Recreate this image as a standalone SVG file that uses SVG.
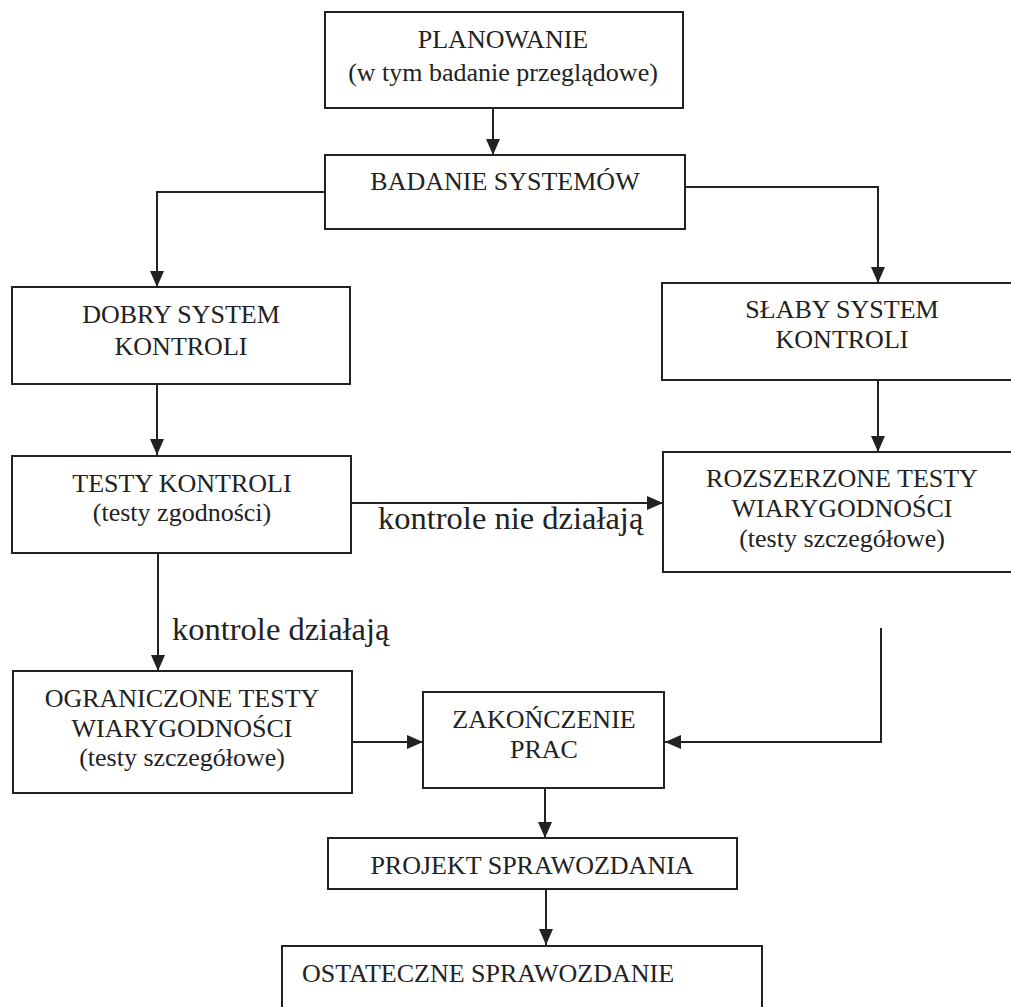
<svg xmlns="http://www.w3.org/2000/svg" width="1011" height="1007" viewBox="0 0 1011 1007">
  <style>
    .box { fill: #ffffff; stroke: #222222; stroke-width: 2; }
    .t { font-family: "Liberation Serif", "Times New Roman", serif; font-size: 26px; fill: #222222; text-anchor: middle; }
    .lbl { font-family: "Liberation Serif", "Times New Roman", serif; font-size: 32.5px; fill: #222222; text-anchor: start; }
    .conn path { fill: none; stroke: #222222; stroke-width: 2; }
  </style>
  <defs>
    <marker id="arr" markerUnits="userSpaceOnUse" markerWidth="16" markerHeight="14" refX="16" refY="7" orient="auto">
      <path d="M0,0 L16,7 L0,14 z" fill="#222222"/>
    </marker>
  </defs>
  <rect width="1011" height="1007" fill="#ffffff"/>

  <g id="connectors" class="conn">
    <path d="M493,108 V155" marker-end="url(#arr)"/>
    <path d="M325,192 H157 V287" marker-end="url(#arr)"/>
    <path d="M685,187 H878 V283" marker-end="url(#arr)"/>
    <path d="M157,384 V455" marker-end="url(#arr)"/>
    <path d="M878,380 V452" marker-end="url(#arr)"/>
    <path d="M351,503 H663" marker-end="url(#arr)"/>
    <path d="M158,553 V671" marker-end="url(#arr)"/>
    <path d="M352,742 H423" marker-end="url(#arr)"/>
    <path d="M881,628 V742 H665" marker-end="url(#arr)"/>
    <path d="M545,788 V838" marker-end="url(#arr)"/>
    <path d="M546,889 V945" marker-end="url(#arr)"/>
  </g>

  <g id="planowanie">
    <rect class="box" x="325" y="12" width="358" height="96"/>
    <text class="t" x="503" y="48">PLANOWANIE</text>
    <text class="t" x="503" y="81">(w tym badanie przeglądowe)</text>
  </g>
  <g id="badanie">
    <rect class="box" x="325" y="155" width="360" height="74"/>
    <text class="t" x="505" y="190">BADANIE SYSTEMÓW</text>
  </g>
  <g id="dobry">
    <rect class="box" x="12" y="287" width="338" height="97"/>
    <text class="t" x="181" y="323">DOBRY SYSTEM</text>
    <text class="t" x="181" y="355">KONTROLI</text>
  </g>
  <g id="slaby">
    <rect class="box" x="662" y="283" width="360" height="97"/>
    <text class="t" x="842" y="318">SŁABY SYSTEM</text>
    <text class="t" x="842" y="348">KONTROLI</text>
  </g>
  <g id="testy">
    <rect class="box" x="12" y="456" width="339" height="97"/>
    <text class="t" x="182" y="492">TESTY KONTROLI</text>
    <text class="t" x="182" y="521">(testy zgodności)</text>
  </g>
  <g id="rozszerzone">
    <rect class="box" x="663" y="452" width="360" height="120"/>
    <text class="t" x="842" y="487">ROZSZERZONE TESTY</text>
    <text class="t" x="842" y="517">WIARYGODNOŚCI</text>
    <text class="t" x="842" y="547">(testy szczegółowe)</text>
  </g>
  <g id="ograniczone">
    <rect class="box" x="13" y="671" width="339" height="122"/>
    <text class="t" x="182" y="707">OGRANICZONE TESTY</text>
    <text class="t" x="182" y="737">WIARYGODNOŚCI</text>
    <text class="t" x="182" y="766">(testy szczegółowe)</text>
  </g>
  <g id="zakonczenie">
    <rect class="box" x="423" y="692" width="241" height="96"/>
    <text class="t" x="544" y="728">ZAKOŃCZENIE</text>
    <text class="t" x="544" y="758">PRAC</text>
  </g>
  <g id="projekt">
    <rect class="box" x="328" y="838" width="409" height="51"/>
    <text class="t" x="532" y="874">PROJEKT SPRAWOZDANIA</text>
  </g>
  <g id="ostateczne">
    <rect class="box" x="282" y="946" width="480" height="80"/>
    <text class="t" x="302" y="982" style="text-anchor:start">OSTATECZNE SPRAWOZDANIE</text>
  </g>

  <g id="labels">
    <text class="lbl" x="378" y="529">kontrole nie działają</text>
    <text class="lbl" x="172" y="640">kontrole działają</text>
  </g>
</svg>
